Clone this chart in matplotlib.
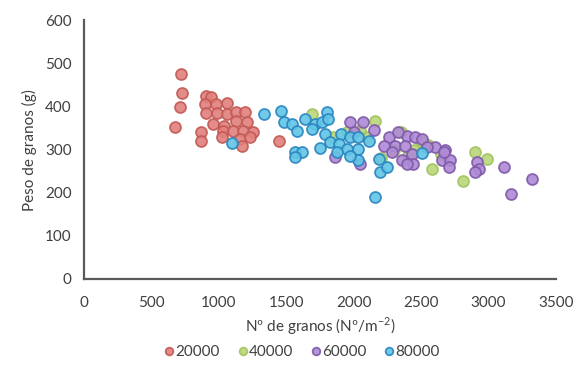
# grain weight vs grain number for four plant densities
import numpy as np
import matplotlib.pyplot as plt

plt.rcParams['font.family'] = ['Lato', 'DejaVu Sans']

# 20000 plants
x_20000 = [717, 725, 712, 675, 905, 942, 898, 979, 1063, 905, 985, 1059, 1128, 1195,
           955, 1039, 1128, 1212, 866, 866, 1029, 1108, 1182, 1256, 1022, 1158, 1232,
           1170, 1449]
y_20000 = [476, 431, 398, 352, 425, 421, 406, 406, 409, 384, 384, 382, 388, 388,
           359, 355, 367, 363, 340, 321, 344, 344, 344, 340, 330, 325, 328,
           309, 319]

# 40000 plants
x_40000 = [1690, 2159, 2901, 2988, 2580, 2814, 1950, 2100, 2300, 2400, 2500, 2200,
           2350, 2450, 2650, 1850, 2050, 2550]
y_40000 = [382, 367, 294, 279, 255, 228, 340, 330, 300, 285, 320, 280,
           340, 300, 290, 330, 345, 310]

# 60000 plants
x_60000 = [1862, 1974, 2072, 2048, 2258, 2221, 2308, 2394, 2456, 2506, 2382, 2283,
           2432, 2357, 2443, 2605, 2679, 2654, 2716, 2704, 2914, 2926, 2901, 3111,
           3322, 3166, 2543, 2394, 2666, 2000, 2150, 2330]
y_60000 = [282, 363, 363, 267, 328, 309, 309, 332, 328, 325, 309, 294,
           290, 275, 267, 305, 298, 275, 275, 259, 271, 255, 248, 259,
           232, 198, 305, 267, 294, 340, 345, 340]

# 80000 plants
x_80000 = [1096, 1336, 1460, 1486, 1541, 1578, 1640, 1714, 1764, 1805, 1808, 1690,
           1788, 1566, 1615, 1566, 1751, 1825, 1905, 1894, 1974, 1949, 2035, 2035,
           2035, 2110, 1875, 1974, 2184, 2196, 2159, 2506, 2246]
y_80000 = [315, 382, 390, 365, 359, 342, 371, 359, 365, 386, 371, 348,
           336, 295, 294, 282, 304, 317, 336, 313, 328, 302, 328, 302,
           275, 321, 294, 286, 279, 248, 190, 292, 259]

series = [
    ('20000', x_20000, y_20000, '#e2807c', '#c25a55'),
    ('40000', x_40000, y_40000, '#b9d67a', '#a3c45e'),
    ('60000', x_60000, y_60000, '#b08ad6', '#7f5aa8'),
    ('80000', x_80000, y_80000, '#62c6e6', '#2a86c0'),
]

fig = plt.figure(figsize=(5.77, 3.80), dpi=100)
ax = fig.add_axes([0.1456, 0.2658, 0.818, 0.6812])

for name, xs, ys, fc, ec in series:
    ax.scatter(xs, ys, s=62, facecolor=fc, edgecolor=ec, linewidth=1.3,
               alpha=0.9, label=name, zorder=3)

ax.set_xlim(0, 3500)
ax.set_ylim(0, 600)
ax.set_xticks(np.arange(0, 3501, 500))
ax.set_yticks(np.arange(0, 601, 100))
ax.tick_params(axis='x', length=0, labelsize=11, colors='#404040', pad=12)
ax.tick_params(axis='y', length=0, labelsize=11, colors='#404040', pad=9)

for side in ['top', 'right']:
    ax.spines[side].set_visible(False)
for side in ['left', 'bottom']:
    ax.spines[side].set_color('#5a5a5a')
    ax.spines[side].set_linewidth(1.6)

ax.set_xlabel('Nº de granos (Nº/m$^{\\mathregular{-2}}$)', fontsize=11, color='#404040', labelpad=4)
ax.set_ylabel('Peso de granos (g)', fontsize=11, color='#404040', labelpad=6)

leg = fig.legend(loc='center', bbox_to_anchor=(0.52, 0.075), ncol=4,
                 frameon=False, fontsize=11, handletextpad=-0.2,
                 handlelength=1.2, columnspacing=0.9, markerscale=0.7)
for t in leg.get_texts():
    t.set_color('#404040')

fig.savefig('out.png', dpi=100)
